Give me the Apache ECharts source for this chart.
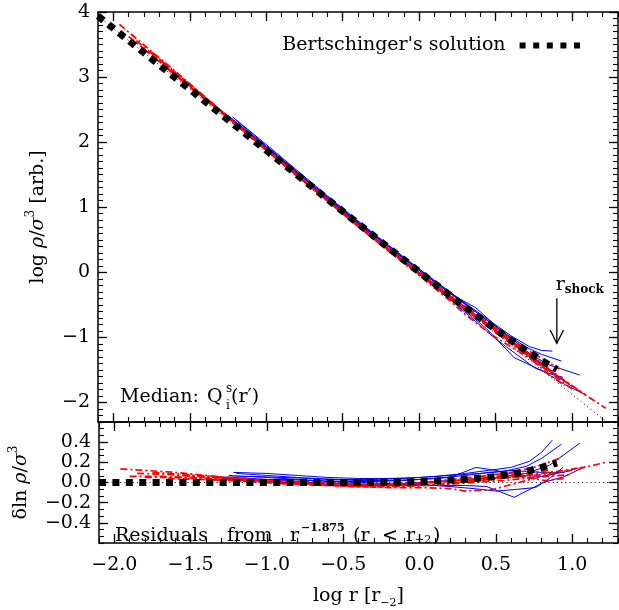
<!DOCTYPE html>
<html>
<head>
<meta charset="utf-8">
<script src="https://cdn.jsdelivr.net/npm/echarts@6/dist/echarts.min.js"></script>
<style>
  html, body { margin: 0; padding: 0; background: #fff; }
  #chart { width: 619px; height: 610px; }
</style>
</head>
<body>
<div id="chart"></div>
<script>
// ---- axis ranges and ticks ----
const X_MIN = -2.1, X_MAX = 1.3;
const TOP_Y_MIN = -2.3, TOP_Y_MAX = 4.0;
const RES_Y_MIN = -0.6, RES_Y_MAX = 0.6;
const SLOPE = -1.875;              // inner power law r^-1.875

const xMajor = [-2.0, -1.5, -1.0, -0.5, 0.0, 0.5, 1.0];
const xTickLabels = ['\u22122.0', '\u22121.5', '\u22121.0', '\u22120.5', '0.0', '0.5', '1.0'];
const topYMajor = [-2, -1, 0, 1, 2, 3, 4];
const topYTickLabels = ['\u22122', '\u22121', '0', '1', '2', '3', '4'];
const resYMajor = [-0.4, -0.2, 0.0, 0.2, 0.4];
const resYTickLabels = ['\u22120.4', '\u22120.2', '0.0', '0.2', '0.4'];

// ---- Bertschinger similarity solution: residual vs log r ----
const bertschinger = [
  [-2.1, 0.0], [-1.5, 0.0], [-1.0, 0.0], [-0.6, 0.0], [-0.4, 0.0], [-0.2, 0.002],
  [0.0, 0.008], [0.1, 0.016], [0.2, 0.024], [0.3, 0.031], [0.4, 0.044],
  [0.5, 0.059], [0.6, 0.082], [0.7, 0.11], [0.8, 0.148], [0.9, 0.195]
];

// ---- individual haloes (solid blue): residual vs log r ----
const blue1 = [[-1.30, 0.05], [-1.1, 0.06], [-0.9, 0.05], [-0.7, 0.04], [-0.5, 0.03], [-0.3, 0.03], [-0.1, 0.04], [0.1, 0.06], [0.3, 0.09], [0.45, 0.12], [0.6, 0.15], [0.72, 0.21], [0.8, 0.3], [0.87, 0.42]];
const blue2 = [[-1.22, 0.1], [-1.0, 0.09], [-0.8, 0.07], [-0.6, 0.05], [-0.4, 0.04], [-0.2, 0.04], [0.0, 0.05], [0.2, 0.07], [0.4, 0.09], [0.55, 0.11], [0.7, 0.16], [0.8, 0.24], [0.93, 0.38]];
const blue3 = [[-1.35, 0.055], [-1.1, 0.04], [-0.9, 0.02], [-0.7, 0.0], [-0.5, -0.01], [-0.3, -0.02], [-0.1, -0.01], [0.1, 0.01], [0.3, 0.03], [0.5, 0.05], [0.7, 0.09], [0.85, 0.17], [1.05, 0.39]];
const blue4 = [[-1.3, 0.03], [-1.1, 0.02], [-0.9, 0.0], [-0.7, -0.02], [-0.5, -0.03], [-0.3, -0.03], [-0.1, -0.03], [0.1, -0.03], [0.3, -0.03], [0.44, -0.04], [0.62, -0.147], [0.81, 0.0], [0.95, 0.06], [1.085, 0.157]];
const blue5 = [[-1.25, 0.07], [-1.0, 0.05], [-0.8, 0.03], [-0.6, 0.01], [-0.4, 0.0], [-0.2, -0.01], [0.0, -0.02], [0.2, -0.04], [0.35, -0.06], [0.5, -0.085], [0.62, -0.07], [0.76, -0.05], [0.86, 0.05], [0.94, 0.15]];
const blue6 = [[-1.3, 0.04], [-1.1, 0.03], [-0.9, 0.03], [-0.7, 0.02], [-0.5, 0.01], [-0.3, 0.01], [-0.1, 0.02], [0.1, 0.04], [0.3, 0.07], [0.45, 0.1], [0.6, 0.12], [0.7, 0.11], [0.8, 0.1], [0.95, 0.1]];
const blue7 = [[-1.2, 0.09], [-1.0, 0.07], [-0.8, 0.05], [-0.6, 0.03], [-0.4, 0.02], [-0.2, 0.02], [0.0, 0.03], [0.2, 0.05], [0.37, 0.15], [0.5, 0.12], [0.65, 0.07], [0.8, 0.06], [1.0, 0.12]];

// ---- individual haloes (dash-dot red): residual vs log r ----
const red1 = [[-1.96, 0.135], [-1.8, 0.12], [-1.6, 0.1], [-1.4, 0.07], [-1.2, 0.04], [-1.0, 0.02], [-0.8, 0.0], [-0.6, -0.02], [-0.4, -0.02], [-0.2, -0.01], [0.0, 0.0], [0.2, 0.03], [0.4, 0.06], [0.6, 0.1], [0.75, 0.15], [0.92, 0.24]];
const red2 = [[-1.9, 0.06], [-1.7, 0.06], [-1.5, 0.05], [-1.3, 0.03], [-1.1, 0.01], [-0.9, -0.01], [-0.7, -0.02], [-0.5, -0.03], [-0.3, -0.03], [-0.1, -0.02], [0.1, 0.0], [0.3, 0.02], [0.5, 0.04], [0.7, 0.06], [0.9, 0.1], [1.05, 0.14], [1.22, 0.2]];
const red3 = [[-1.85, 0.09], [-1.65, 0.08], [-1.45, 0.06], [-1.25, 0.04], [-1.05, 0.02], [-0.85, 0.0], [-0.65, -0.02], [-0.45, -0.04], [-0.25, -0.04], [-0.05, -0.03], [0.15, -0.02], [0.35, 0.01], [0.55, 0.05], [0.75, 0.08], [0.95, 0.12], [1.09, 0.157]];
const red4 = [[-1.8, 0.05], [-1.6, 0.05], [-1.4, 0.04], [-1.2, 0.02], [-1.0, 0.0], [-0.8, -0.02], [-0.6, -0.03], [-0.4, -0.04], [-0.2, -0.05], [0.0, -0.05], [0.2, -0.06], [0.3, -0.085], [0.48, -0.07], [0.65, 0.0], [0.8, 0.06], [0.9, 0.1]];
const red5 = [[-1.75, 0.1], [-1.55, 0.08], [-1.35, 0.06], [-1.15, 0.04], [-0.95, 0.02], [-0.75, 0.01], [-0.55, -0.01], [-0.35, -0.02], [-0.15, -0.02], [0.05, 0.0], [0.25, 0.02], [0.45, 0.05], [0.6, 0.08], [0.75, 0.1], [0.85, 0.12]];
const red6 = [[-1.65, 0.04], [-1.45, 0.03], [-1.25, 0.02], [-1.05, 0.01], [-0.85, 0.0], [-0.65, -0.01], [-0.45, -0.02], [-0.25, -0.03], [-0.05, -0.03], [0.15, -0.02], [0.35, 0.0], [0.55, 0.02], [0.75, 0.05], [1.0, 0.08]];
const red7 = [[-1.55, 0.07], [-1.35, 0.05], [-1.15, 0.03], [-0.95, 0.01], [-0.75, -0.01], [-0.55, -0.03], [-0.35, -0.04], [-0.15, -0.04], [0.05, -0.03], [0.25, 0.0], [0.45, 0.04], [0.55, 0.06], [0.7, 0.05], [0.82, 0.02], [0.95, 0.04]];

const blueHaloes = [blue1, blue2, blue3, blue4, blue5, blue6, blue7];
const redHaloes = [red1, red2, red3, red4, red5, red6, red7];

// shock radius marker
const SHOCK_LOG_R = 0.9;

// ---- styling ----
const FONT = 'DejaVu Serif';
const INK = '#000';
const BERT_NAME = "Bertschinger's solution";

function steps(a, b, step) {
  const n = Math.round((b - a) / step);
  const out = [];
  for (let i = 0; i <= n; i++) out.push(+(a + i * step).toFixed(5));
  return out;
}
const xMinor = steps(X_MIN, X_MAX, 0.1);
const topYMinor = steps(TOP_Y_MIN, TOP_Y_MAX, 0.1);
const resYMinor = steps(RES_Y_MIN, RES_Y_MAX, 0.2 / 3);

function labelFor(values, labels) {
  return v => {
    const i = values.findIndex(m => Math.abs(m - v) < 1e-6);
    return i >= 0 ? labels[i] : '';
  };
}

// Box frame: on each side a major-tick axis (with line) and a minor-tick axis,
// ticks pointing inward; labels only on the bottom/left one.
function boxAxes(gridIndex, sides, min, max, major, minor, tickLabels, nameOpts) {
  const axes = [];
  sides.forEach((pos, k) => {
    axes.push(Object.assign({
      type: 'value', gridIndex, position: pos, min, max,
      axisLine: { show: true, onZero: false, lineStyle: { color: INK, width: 1.5 } },
      axisTick: { show: true, inside: true, length: 9, customValues: major, lineStyle: { color: INK, width: 1.3 } },
      axisLabel: {
        show: k === 0 && !!tickLabels, customValues: major,
        formatter: tickLabels ? labelFor(major, tickLabels) : undefined,
        fontFamily: FONT, fontSize: 19, color: INK,
        margin: (pos === 'bottom' ? 13 : 8)
      },
      splitLine: { show: false }
    }, k === 0 ? (nameOpts || {}) : {}));
    axes.push({
      type: 'value', gridIndex, position: pos, min, max,
      axisLine: { show: false, onZero: false },
      axisTick: { show: true, inside: true, length: 5, customValues: minor, lineStyle: { color: INK, width: 1.1 } },
      axisLabel: { show: false },
      splitLine: { show: false }
    });
  });
  return axes;
}

const nameRich = {
  it: { fontFamily: FONT, fontSize: 19, fontStyle: 'italic', color: INK },
  sup: { fontFamily: FONT, fontSize: 12, lineHeight: 12, verticalAlign: 'top', color: INK },
  sub: { fontFamily: FONT, fontSize: 11, lineHeight: 11, verticalAlign: 'bottom', color: INK }
};
const nameStyle = { fontFamily: FONT, fontSize: 19, color: INK, lineHeight: 26, rich: nameRich };

const xAxes = []
  .concat(boxAxes(0, ['bottom', 'top'], X_MIN, X_MAX, xMajor, xMinor, null))
  .concat(boxAxes(1, ['bottom', 'top'], X_MIN, X_MAX, xMajor, xMinor, xTickLabels, {
    name: 'log r [r{sub|\u22122}]', nameLocation: 'middle', nameGap: 40, nameTextStyle: nameStyle
  }));
const yAxes = []
  .concat(boxAxes(0, ['left', 'right'], TOP_Y_MIN, TOP_Y_MAX, topYMajor, topYMinor, topYTickLabels, {
    name: 'log {it|\u03c1}/{it|\u03c3}{sup|3} [arb.]', nameLocation: 'middle', nameRotate: 90, nameGap: 42, nameTextStyle: nameStyle
  }))
  .concat(boxAxes(1, ['left', 'right'], RES_Y_MIN, RES_Y_MAX, resYMajor, resYMinor, resYTickLabels, {
    name: '\u03b4ln {it|\u03c1}/{it|\u03c3}{sup|3}', nameLocation: 'middle', nameRotate: 90, nameGap: 64, nameTextStyle: nameStyle
  }));

// major (bottom / left) axis of each panel
const TOP = { xAxisIndex: 0, yAxisIndex: 0 };
const RES = { xAxisIndex: 4, yAxisIndex: 4 };

const profile = pts => pts.map(([x, r]) => [x, SLOPE * x + r]);

const series = [];
function addLine(panel, name, data, lineStyle, z) {
  series.push(Object.assign({
    type: 'line', name, data, showSymbol: false, symbol: 'none', silent: true,
    animation: false, lineStyle, itemStyle: { color: lineStyle.color }, z
  }, panel));
}

// reference power law
const refStyle = { color: '#222', width: 1, type: [1.2, 3] };
addLine(TOP, 'power law', [[X_MIN, SLOPE * X_MIN], [X_MAX, SLOPE * X_MAX]], refStyle, 1);
addLine(RES, 'power law', [[X_MIN, 0], [X_MAX, 0]], refStyle, 1);

blueHaloes.forEach((h, i) => {
  const st = { color: '#0000ff', width: 1 };
  addLine(TOP, 'blue' + i, profile(h), st, 2);
  addLine(RES, 'blue' + i, h, st, 2);
});
redHaloes.forEach((h, i) => {
  const st = { color: '#ff0000', width: 1.7, type: [7, 3, 2, 3] };
  addLine(TOP, 'red' + i, profile(h), st, 3);
  addLine(RES, 'red' + i, h, st, 3);
});
const bertStyle = { color: INK, width: 7, type: [7, 6.4], cap: 'butt' };
addLine(TOP, BERT_NAME, profile(bertschinger), bertStyle, 4);
addLine(RES, BERT_NAME, bertschinger, bertStyle, 4);

const legendIcon = 'path://M0,0h6v6h-6z M13.6,0h6v6h-6z M27.2,0h6v6h-6z M40.8,0h6v6h-6z M54.4,0h6v6h-6z';

const option = {
  animation: false,
  backgroundColor: '#fff',
  grid: [
    { left: 98, top: 12, width: 520, height: 410 },
    { left: 98, top: 422, width: 520, height: 128 }
  ],
  xAxis: xAxes,
  yAxis: yAxes,
  legend: {
    data: [{ name: BERT_NAME, icon: legendIcon }],
    right: 34, top: 31, align: 'right', selectedMode: false,
    itemWidth: 60.4, itemHeight: 6,
    itemStyle: { color: INK, borderWidth: 0 },
    textStyle: { fontFamily: FONT, fontSize: 19, color: INK, padding: [0, 9, 0, 0] }
  },
  series
};

const chart = echarts.init(document.getElementById('chart'), null, { renderer: 'canvas' });
chart.setOption(option);

// ---- annotations ----
const txt = (x, y, text, size, extra) => ({
  type: 'text', x, y, silent: true, z: 60,
  style: Object.assign({ text, fontFamily: FONT, fontSize: size, fill: INK, align: 'left', verticalAlign: 'middle' }, extra || {})
});

const tip = chart.convertToPixel(TOP, [SHOCK_LOG_R, -1.09]);
const tail = chart.convertToPixel(TOP, [SHOCK_LOG_R, -0.4]);
const lbl = chart.convertToPixel(TOP, [SHOCK_LOG_R, -0.2]);

chart.setOption({
  graphic: [
    { type: 'polyline', silent: true, z: 60, shape: { points: [tail, tip] }, style: { stroke: INK, lineWidth: 1.3, fill: null } },
    { type: 'polyline', silent: true, z: 60, shape: { points: [[tip[0] - 6.7, tip[1] - 13.3], tip, [tip[0] + 6.7, tip[1] - 13.3]] }, style: { stroke: INK, lineWidth: 1.3, fill: null } },
    txt(lbl[0] - 1, lbl[1], 'r', 19),
    txt(lbl[0] + 8, lbl[1] + 5, 'shock', 12, { fontWeight: 'bold' }),
    txt(120, 397, 'Median:', 19),
    txt(207, 397, 'Q', 19),
    txt(226, 389, 's', 12),
    txt(226, 406, 'i', 12),
    txt(231, 397, '(r\u2032)', 19),
    txt(115, 536, 'Residuals', 19),
    txt(227, 536, 'from', 19),
    txt(290, 536, 'r', 19),
    txt(301, 528, '\u22121.875', 11, { fontWeight: 'bold' }),
    txt(353, 536, '(r', 19),
    txt(382, 536, '<', 19),
    txt(406, 536, 'r', 19),
    txt(415, 540, '\u22122', 11),
    txt(433, 536, ')', 19)
  ]
});
</script>
</body>
</html>
